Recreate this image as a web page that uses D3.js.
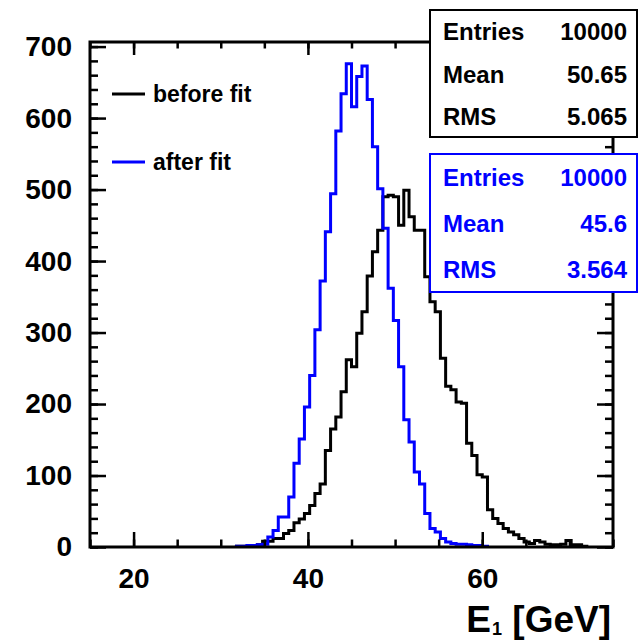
<!DOCTYPE html>
<html>
<head>
<meta charset="utf-8">
<script src="https://cdn.jsdelivr.net/npm/d3@7/dist/d3.min.js"></script>
<style>
    body { margin: 0; background: #fff; }
    svg { display: block; font-family: "Liberation Sans", Arial, Helvetica, sans-serif; font-weight: bold; }
</style>
</head>
<body>
<svg id="chart" width="639" height="642"></svg>
<script>
// Histogram binning (100 bins from 15 to 75 GeV)
const binLow = 15;
const binHigh = 75;
const nBins = 100;

// Bin contents, before the kinematic fit (black)
const beforeFit = [
    0, 0, 0, 0, 0, 0, 0, 0, 0, 0,
    0, 0, 0, 0, 0, 0, 0, 0, 0, 0,
    0, 0, 0, 0, 0, 0, 0, 0, 1, 1,
    1, 2, 3, 8, 8, 12, 12, 19, 23, 34,
    39, 47, 58, 75, 88, 135, 165, 182, 217, 262,
    252, 299, 329, 379, 413, 443, 490, 492, 490, 450,
    499, 462, 443, 443, 378, 343, 329, 264, 225, 220,
    203, 201, 145, 128, 101, 98, 52, 40, 33, 26,
    21, 17, 12, 7, 5, 9, 7, 4, 3, 3,
    4, 9, 3, 3, 1, 0, 0, 0, 0, 0
];

// Bin contents, after the kinematic fit (blue)
const afterFit = [
    0, 0, 0, 0, 0, 0, 0, 0, 0, 0,
    0, 0, 0, 0, 0, 0, 0, 0, 0, 0,
    0, 0, 0, 0, 0, 0, 0, 0, 1, 1,
    2, 2, 3, 4, 14, 23, 42, 42, 70, 117,
    151, 196, 240, 304, 372, 441, 494, 582, 634, 676,
    616, 658, 673, 626, 560, 501, 446, 362, 317, 252,
    178, 147, 105, 88, 47, 26, 21, 12, 7, 5,
    4, 4, 3, 2, 2, 1, 0, 0, 0, 0,
    0, 0, 0, 0, 0, 0, 0, 0, 0, 0,
    0, 0, 0, 0, 0, 0, 0, 0, 0, 0
];

// Axis ticks
const xMajorTicks = [20, 40, 60];
const yMajorTicks = [0, 100, 200, 300, 400, 500, 600, 700];

// Legend and statistics boxes
const legendLabels = ["before fit", "after fit"];
const statNames = ["Entries", "Mean", "RMS"];
const beforeStats = ["10000", "50.65", "5.065"];
const afterStats = ["10000", "45.6", "3.564"];

const colors = ["#000000", "#0000ff"];


/**
 * ROOT style histogram drawn with D3.js
 *
 * @param element svg element
 * @constructor
 */
function HistChart(element) {
    this.element = element;
    this.svg = null;
    this.x = null;
    this.y = null;

    // Frame of the plot area
    this.frame = {left: 90, right: 613, top: 42, bottom: 547};

    this.init = function () {
        this.svg = d3.select(this.element);
        this.svg.selectAll("*").remove();
        this.setup();
        this.addHist(beforeFit, colors[0]);
        this.addHist(afterFit, colors[1]);
        this.drawAxes();
        this.drawLegend();
        this.drawStats(beforeStats, colors[0], 10, 127);
        this.drawStats(afterStats, colors[1], 154, 138);
    };


    /**
     * Scales
     */
    this.setup = function () {
        let me = this;
        let f = me.frame;

        me.x = d3.scaleLinear()
            .domain([binLow, binHigh])
            .range([f.left, f.right]);

        // ROOT puts the maximum a bit above the highest bin
        me.y = d3.scaleLinear()
            .domain([0, d3.max(afterFit) * 1.045])
            .range([f.bottom, f.top]);
    };


    /**
     * Adds one histogram as a step line
     */
    this.addHist = function (counts, color) {
        let me = this;
        let width = (binHigh - binLow) / nBins;

        // only the range that has entries
        let first = counts.findIndex(v => v > 0);
        let last = counts.length - 1 - counts.slice().reverse().findIndex(v => v > 0);

        let pts = [[binLow + first * width, 0]];
        for (let i = first; i <= last; i++) {
            pts.push([binLow + i * width, counts[i]]);
            pts.push([binLow + (i + 1) * width, counts[i]]);
        }
        pts.push([binLow + (last + 1) * width, 0]);

        let line = d3.line()
            .x(d => me.x(d[0]))
            .y(d => me.y(d[1]));

        me.svg.append("path")
            .datum(pts)
            .attr("d", line)
            .attr("fill", "none")
            .attr("stroke", color)
            .attr("stroke-width", 3)
            .attr("stroke-linejoin", "miter");
    };


    /**
     * Frame with ticks on all four sides, pointing inwards
     */
    this.drawAxes = function () {
        let me = this;
        let f = me.frame;
        let xMinor = d3.range(binLow, binHigh + 0.01, 5);
        let yMinor = d3.range(0, 701, 20);

        let clean = g => {
            g.select(".domain").remove();
            g.selectAll("line").attr("stroke", "#000").attr("stroke-width", 2.5);
        };

        // bottom
        me.svg.append("g")
            .attr("transform", "translate(0," + f.bottom + ")")
            .call(d3.axisBottom(me.x).tickValues(xMinor).tickSize(-7.5).tickFormat(""))
            .call(clean);
        me.svg.append("g")
            .attr("class", "axis axis--x")
            .attr("transform", "translate(0," + f.bottom + ")")
            .call(d3.axisBottom(me.x).tickValues(xMajorTicks).tickSize(-15).tickPadding(21).tickFormat(d3.format("d")))
            .call(clean);

        // top
        me.svg.append("g")
            .attr("transform", "translate(0," + f.top + ")")
            .call(d3.axisTop(me.x).tickValues(xMinor).tickSize(-6.5).tickFormat(""))
            .call(clean);
        me.svg.append("g")
            .attr("transform", "translate(0," + f.top + ")")
            .call(d3.axisTop(me.x).tickValues(xMajorTicks).tickSize(-13).tickFormat(""))
            .call(clean);

        // left
        me.svg.append("g")
            .attr("transform", "translate(" + f.left + ",0)")
            .call(d3.axisLeft(me.y).tickValues(yMinor).tickSize(-8).tickFormat(""))
            .call(clean);
        me.svg.append("g")
            .attr("class", "axis axis--y")
            .attr("transform", "translate(" + f.left + ",0)")
            .call(d3.axisLeft(me.y).tickValues(yMajorTicks).tickSize(-16).tickPadding(18).tickFormat(d3.format("d")))
            .call(clean);

        // right
        me.svg.append("g")
            .attr("transform", "translate(" + f.right + ",0)")
            .call(d3.axisRight(me.y).tickValues(yMinor).tickSize(-8).tickFormat(""))
            .call(clean);
        me.svg.append("g")
            .attr("transform", "translate(" + f.right + ",0)")
            .call(d3.axisRight(me.y).tickValues(yMajorTicks).tickSize(-16).tickFormat(""))
            .call(clean);

        me.svg.selectAll(".axis text")
            .attr("font-family", "Liberation Sans, Arial, sans-serif")
            .attr("font-weight", "bold")
            .attr("font-size", 28)
            .attr("fill", "#000");

        // frame
        me.svg.append("rect")
            .attr("x", f.left)
            .attr("y", f.top)
            .attr("width", f.right - f.left)
            .attr("height", f.bottom - f.top)
            .attr("fill", "none")
            .attr("stroke", "#000")
            .attr("stroke-width", 3);

        // axis title E_1 [GeV]
        let title = me.svg.append("text")
            .attr("x", 611)
            .attr("y", 632)
            .attr("text-anchor", "end")
            .attr("font-size", 37);
        title.append("tspan").text("E");
        title.append("tspan").attr("font-size", 18).attr("dx", 1).attr("dy", 3).text("1");
        title.append("tspan").attr("dy", -3).text(" [GeV]");
    };


    /**
     * Legend in the upper left corner
     */
    this.drawLegend = function () {
        let me = this;
        let rows = [94, 162];

        legendLabels.forEach(function (label, i) {
            me.svg.append("line")
                .attr("x1", 112).attr("x2", 145)
                .attr("y1", rows[i]).attr("y2", rows[i])
                .attr("stroke", colors[i])
                .attr("stroke-width", 3);
            me.svg.append("text")
                .attr("x", 153)
                .attr("y", rows[i] + 8)
                .attr("font-size", 23)
                .attr("fill", "#000")
                .text(label);
        });
    };


    /**
     * Statistics box (Entries, Mean, RMS)
     */
    this.drawStats = function (values, color, top, height) {
        let me = this;
        let left = 430, right = 637;

        me.svg.append("rect")
            .attr("x", left)
            .attr("y", top)
            .attr("width", right - left)
            .attr("height", height)
            .attr("fill", "#fff")
            .attr("stroke", color)
            .attr("stroke-width", 2);

        let step = height / 3;
        statNames.forEach(function (name, i) {
            let base = top + step * (i + 0.5) + 9;
            me.svg.append("text")
                .attr("x", left + 13)
                .attr("y", base)
                .attr("font-size", 24)
                .attr("fill", color)
                .text(name);
            me.svg.append("text")
                .attr("x", right - 10)
                .attr("y", base)
                .attr("text-anchor", "end")
                .attr("font-size", 24)
                .attr("fill", color)
                .text(values[i]);
        });
    };


    this.init();
}

new HistChart(document.getElementById("chart"));
</script>
</body>
</html>
